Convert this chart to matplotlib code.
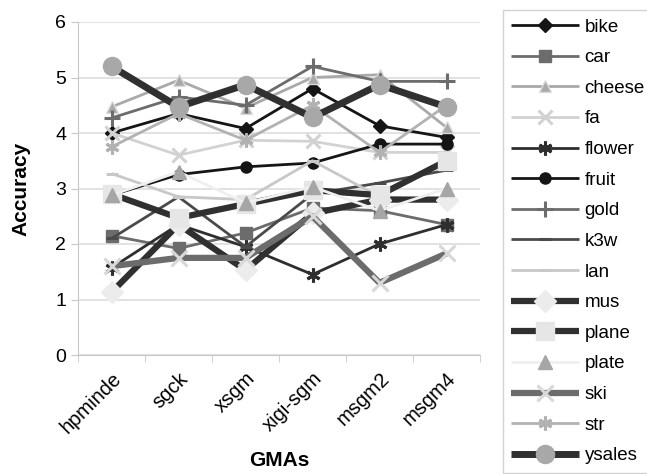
import numpy as np
import matplotlib
matplotlib.use("Agg")
import matplotlib.pyplot as plt

plt.rcParams['font.family'] = ['Liberation Sans', 'DejaVu Sans']

gmas = ["hpminde", "sgck", "xsgm", "xigi-sgm", "msgm2", "msgm4"]

bike = [4.0, 4.35, 4.08, 4.8, 4.13, 3.92]
car = [2.15, 1.92, 2.2, 2.65, 2.6, 2.35]
cheese = [4.47, 4.95, 4.45, 5.0, 5.05, 4.1]
fa = [4.0, 3.6, 3.87, 3.85, 3.65, 3.65]
flower = [1.57, 2.35, 1.95, 1.45, 2.0, 2.35]
fruit = [2.88, 3.25, 3.39, 3.46, 3.8, 3.8]
gold = [4.27, 4.65, 4.5, 5.2, 4.93, 4.93]
k3w = [2.1, 2.85, 1.95, 2.9, 3.1, 3.33]
lan = [3.27, 2.85, 2.8, 3.5, 2.85, 2.8]
mus = [1.13, 2.35, 1.53, 2.55, 2.8, 2.8]
plane = [2.9, 2.47, 2.72, 2.97, 2.88, 3.5]
plate = [2.88, 3.3, 2.74, 3.03, 2.6, 3.0]
ski = [1.6, 1.75, 1.75, 2.5, 1.3, 1.83]
str_ = [3.75, 4.35, 3.87, 4.5, 3.65, 4.5]
ysales = [5.2, 4.47, 4.87, 4.28, 4.87, 4.47]

# name, values, line color, line width, marker, marker face, marker edge, marker size
series = [
    ("bike", bike, "#151515", 2.0, "D", "#151515", "#151515", 7),
    ("car", car, "#6c6c6c", 2.0, "s", "#6c6c6c", "#6c6c6c", 8),
    ("cheese", cheese, "#a9a9a9", 2.0, "^", "#a9a9a9", "#dcdcdc", 8),
    ("fa", fa, "#d2d2d2", 2.0, "x", "#d2d2d2", "#d2d2d2", 10),
    ("flower", flower, "#2e2e2e", 2.0, (6, 2, 0), "#2e2e2e", "#2e2e2e", 10),
    ("fruit", fruit, "#151515", 2.0, "o", "#151515", "#151515", 8),
    ("gold", gold, "#6c6c6c", 2.0, "+", "#6c6c6c", "#6c6c6c", 11),
    ("k3w", k3w, "#4a4a4a", 2.0, "_", "#4a4a4a", "#4a4a4a", 8),
    ("lan", lan, "#c8c8c8", 2.0, "_", "#c8c8c8", "#c8c8c8", 8),
    ("mus", mus, "#303030", 4.5, "D", "#ececec", "#ececec", 11),
    ("plane", plane, "#303030", 4.5, "s", "#e6e6e6", "#e6e6e6", 13),
    ("plate", plate, "#efefef", 2.0, "^", "#a6a6a6", "#a6a6a6", 10),
    ("ski", ski, "#6c6c6c", 4.5, "x", "#d8d8d8", "#d8d8d8", 12),
    ("str", str_, "#b2b2b2", 2.0, (6, 2, 0), "#b2b2b2", "#b2b2b2", 10),
    ("ysales", ysales, "#303030", 5.0, "o", "#a8a8a8", "#a8a8a8", 13),
]

fig = plt.figure(figsize=(6.47, 4.74), dpi=100)
ax = fig.add_axes([78 / 647, 1 - 355 / 474, (480 - 78) / 647, (355 - 22) / 474])

x = np.arange(len(gmas))
handles = []
for name, vals, lc, lw, mk, mfc, mec, ms in series:
    thin = mk in ("x", "+", "_") or isinstance(mk, tuple)
    h, = ax.plot(x, vals, color=lc, lw=lw, marker=mk, markerfacecolor=mfc,
                 markeredgecolor=mec, markersize=ms, markeredgewidth=2.2 if thin else 1,
                 label=name, solid_capstyle="butt")
    handles.append(h)

ax.set_xlim(-0.5, 5.5)
ax.set_ylim(0, 6)
ax.set_yticks(range(0, 7))
ax.set_xticks(x)
ax.set_xticklabels(gmas, rotation=45, ha="right", rotation_mode="anchor", fontsize=14.5)
ax.set_xticks(np.arange(-0.5, 6, 1), minor=True)
ax.tick_params(axis="x", which="major", length=0, pad=10)
ax.tick_params(axis="x", which="minor", length=5, color="#c8c8c8")
ax.tick_params(axis="y", length=5, color="#c8c8c8", labelsize=14)
ax.yaxis.grid(True, color="#dddddd", lw=1.2)
ax.set_axisbelow(True)
for s in ["top", "right"]:
    ax.spines[s].set_visible(False)
for s in ["left", "bottom"]:
    ax.spines[s].set_color("#c8c8c8")

ax.set_ylabel("Accuracy", fontsize=15, fontweight="bold", labelpad=18)
ax.set_xlabel("GMAs", fontsize=15, fontweight="bold", labelpad=10)

leg = fig.legend(handles=handles, loc="upper left", bbox_to_anchor=(503 / 647, 1 - 10 / 474),
                 fontsize=13.5, frameon=True, fancybox=False, handlelength=3.6,
                 labelspacing=0.72, borderpad=0.45, handletextpad=0.3,
                 borderaxespad=0)
leg.get_frame().set_edgecolor("#c8c8c8")
leg.get_frame().set_linewidth(1.0)

fig.savefig("out.png", dpi=100)
